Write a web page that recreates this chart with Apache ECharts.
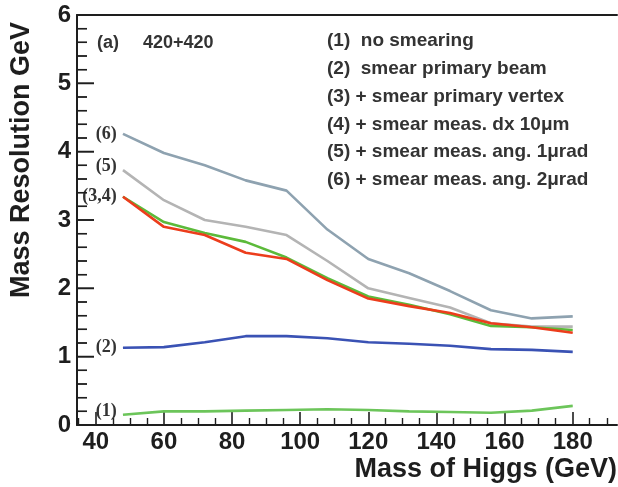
<!DOCTYPE html>
<html>
<head>
<meta charset="utf-8">
<script src="https://cdn.jsdelivr.net/npm/echarts@6/dist/echarts.min.js"></script>
<style>
  html, body { margin: 0; padding: 0; background: #fff; }
  #chart { width: 618px; height: 487px; }
</style>
</head>
<body>
<div id="chart"></div>
<script>
// Higgs mass points (GeV)
const massGeV = [48, 60, 72, 84, 96, 108, 120, 132, 144, 156, 168, 180];

// Mass resolution (GeV) for each smearing configuration
const noSmearing      = [0.15, 0.20, 0.20, 0.21, 0.22, 0.23, 0.22, 0.20, 0.19, 0.18, 0.21, 0.28];
const smearBeam       = [1.13, 1.14, 1.21, 1.30, 1.30, 1.27, 1.21, 1.19, 1.16, 1.11, 1.10, 1.07];
const smearVertex     = [3.34, 2.97, 2.81, 2.68, 2.45, 2.15, 1.88, 1.76, 1.62, 1.45, 1.43, 1.39];
const smearDx10um     = [3.34, 2.90, 2.78, 2.52, 2.43, 2.12, 1.85, 1.74, 1.64, 1.49, 1.43, 1.35];
const smearAng1urad   = [3.73, 3.29, 3.00, 2.90, 2.78, 2.40, 2.00, 1.86, 1.72, 1.49, 1.44, 1.44];
const smearAng2urad   = [4.26, 3.98, 3.80, 3.58, 3.43, 2.86, 2.43, 2.22, 1.96, 1.68, 1.56, 1.59];

// Axis ticks
const xMajorTicks = [40, 60, 80, 100, 120, 140, 160, 180];
const xMinorTicks = [35, 45, 50, 55, 65, 70, 75, 85, 90, 95, 105, 110, 115, 125, 130, 135, 145, 150, 155, 165, 170, 175, 185, 190];
const yMajorTicks = [1, 2, 3, 4, 5];
const yMinorTicks = [0.2, 0.4, 0.6, 0.8, 1.2, 1.4, 1.6, 1.8, 2.2, 2.4, 2.6, 2.8, 3.2, 3.4, 3.6, 3.8, 4.2, 4.4, 4.6, 4.8, 5.2, 5.4, 5.6, 5.8];

// Legend lines and curve tags
const legendLines = [
  '(1)  no smearing',
  '(2)  smear primary beam',
  '(3) + smear primary vertex',
  '(4) + smear meas. dx 10\u03bcm',
  '(5) + smear meas. ang. 1\u03bcrad',
  '(6) + smear meas. ang. 2\u03bcrad'
];

const FONT = '"Liberation Sans", Arial, Helvetica, sans-serif';
const TAG_FONT = '"Liberation Serif", "Times New Roman", serif';
const INK = '#1e1e1e';
const X_MIN = 34.5, X_MAX = 193;

// One resolution curve; the first point carries the "(n)" tag on its left
function curve(name, values, color, tag, tagOffsetY, z) {
  return {
    name: name,
    type: 'line',
    xAxisIndex: 0,
    yAxisIndex: 0,
    symbol: 'circle',
    symbolSize: 0.5,
    showSymbol: true,
    z: z,
    itemStyle: { color: color },
    lineStyle: { color: color, width: 2.6 },
    label: {
      show: false,
      position: 'left',
      distance: 6,
      offset: [0, tagOffsetY || 0],
      fontFamily: TAG_FONT,
      fontWeight: 'bold',
      fontSize: 18,
      color: '#333'
    },
    data: values.map(function (v, i) {
      const item = { value: [massGeV[i], v] };
      if (i === 0 && tag) {
        item.label = { show: true, formatter: tag };
      }
      return item;
    })
  };
}

// Inward ticks along the mass-resolution axis: each item is [value, tick length]
const yTickData = yMajorTicks.map(function (v) { return [v, 17]; })
  .concat(yMinorTicks.map(function (v) { return [v, 10]; }));

const yTickSeries = {
  type: 'custom',
  xAxisIndex: 0,
  yAxisIndex: 0,
  zlevel: 1,
  z: 20,
  silent: true,
  clip: false,
  data: yTickData,
  encode: { y: 0 },
  renderItem: function (params, api) {
    const p = api.coord([X_MIN, api.value(0)]);
    const len = api.value(1);
    return {
      type: 'line',
      shape: { x1: p[0], y1: p[1], x2: p[0] + len, y2: p[1] },
      style: { stroke: INK, lineWidth: len > 12 ? 1.6 : 1.4 }
    };
  }
};

const chart = echarts.init(document.getElementById('chart'), null, { renderer: 'canvas' });

const graphics = [
  {
    type: 'text', x: 22, y: 160, rotation: Math.PI / 2,
    style: { text: 'Mass Resolution GeV', font: 'bold 27px ' + FONT, fill: INK, align: 'center', verticalAlign: 'middle' }
  },
  {
    type: 'text', x: 617, y: 470,
    style: { text: 'Mass of Higgs (GeV)', font: 'bold 27px ' + FONT, fill: INK, align: 'right', verticalAlign: 'middle' }
  },
  {
    type: 'text', x: 97, y: 43,
    style: { text: '(a)', font: 'bold 18px ' + FONT, fill: '#333', align: 'left', verticalAlign: 'middle' }
  },
  {
    type: 'text', x: 143, y: 43,
    style: { text: '420+420', font: 'bold 18px ' + FONT, fill: '#333', align: 'left', verticalAlign: 'middle' }
  }
];
legendLines.forEach(function (t, i) {
  graphics.push({
    type: 'text', x: 327, y: 41 + i * 27.8,
    style: { text: t, font: 'bold 19px ' + FONT, fill: '#333', align: 'left', verticalAlign: 'middle' }
  });
});

const xBase = { type: 'value', min: X_MIN, max: X_MAX, splitLine: { show: false } };

chart.setOption({
  animation: false,
  backgroundColor: '#ffffff',
  grid: { left: 77, right: 1, top: 15, bottom: 62, containLabel: false },
  xAxis: [
    Object.assign({}, xBase, {
      position: 'bottom',
      axisLine: { show: true, onZero: false, lineStyle: { color: INK, width: 2 } },
      axisTick: { show: true, inside: true, length: 13, customValues: xMajorTicks, lineStyle: { color: INK, width: 1.6 } },
      axisLabel: { show: true, customValues: xMajorTicks, margin: 5, fontFamily: FONT, fontWeight: 'bold', fontSize: 24, color: INK }
    }),
    Object.assign({}, xBase, {
      position: 'bottom',
      axisLine: { show: false, onZero: false },
      axisTick: { show: true, inside: true, length: 7, customValues: xMinorTicks, lineStyle: { color: INK, width: 1.4 } },
      axisLabel: { show: false }
    }),
    Object.assign({}, xBase, {
      position: 'top',
      axisLine: { show: true, onZero: false, lineStyle: { color: INK, width: 2 } },
      axisTick: { show: false },
      axisLabel: { show: false }
    })
  ],
  yAxis: [
    {
      type: 'value', min: 0, max: 6, interval: 1, position: 'left',
      splitLine: { show: false },
      axisLine: { show: true, onZero: false, lineStyle: { color: INK, width: 2 } },
      axisTick: { show: false },
      axisLabel: { show: true, margin: 6, fontFamily: FONT, fontWeight: 'bold', fontSize: 24, color: INK }
    }
  ],
  series: [
    curve('(6)', smearAng2urad, '#8ea2b0', '(6)', 0, 2),
    curve('(5)', smearAng1urad, '#b4b4b4', '(5)', -4, 2),
    curve('(3)', smearVertex, '#5cba3a', null, 0, 3),
    curve('(4)', smearDx10um, '#ec3d1c', '(3,4)', 0, 4),
    curve('(2)', smearBeam, '#3a52b4', '(2)', 0, 3),
    curve('(1)', noSmearing, '#6cc55a', '(1)', -3, 3),
    yTickSeries
  ],
  graphic: graphics
});

// Same ticks once more on a top layer, placed through the y scale
const axisX = chart.convertToPixel({ xAxisIndex: 0 }, X_MIN);
const tickLines = yTickData.map(function (d) {
  const py = chart.convertToPixel({ yAxisIndex: 0 }, d[0]);
  return {
    type: 'line', zlevel: 2, z: 100, silent: true,
    shape: { x1: axisX, y1: py, x2: axisX + d[1], y2: py },
    style: { stroke: INK, lineWidth: d[1] > 12 ? 1.6 : 1.4 }
  };
});
chart.setOption({ graphic: graphics.concat(tickLines) });
</script>
</body>
</html>
